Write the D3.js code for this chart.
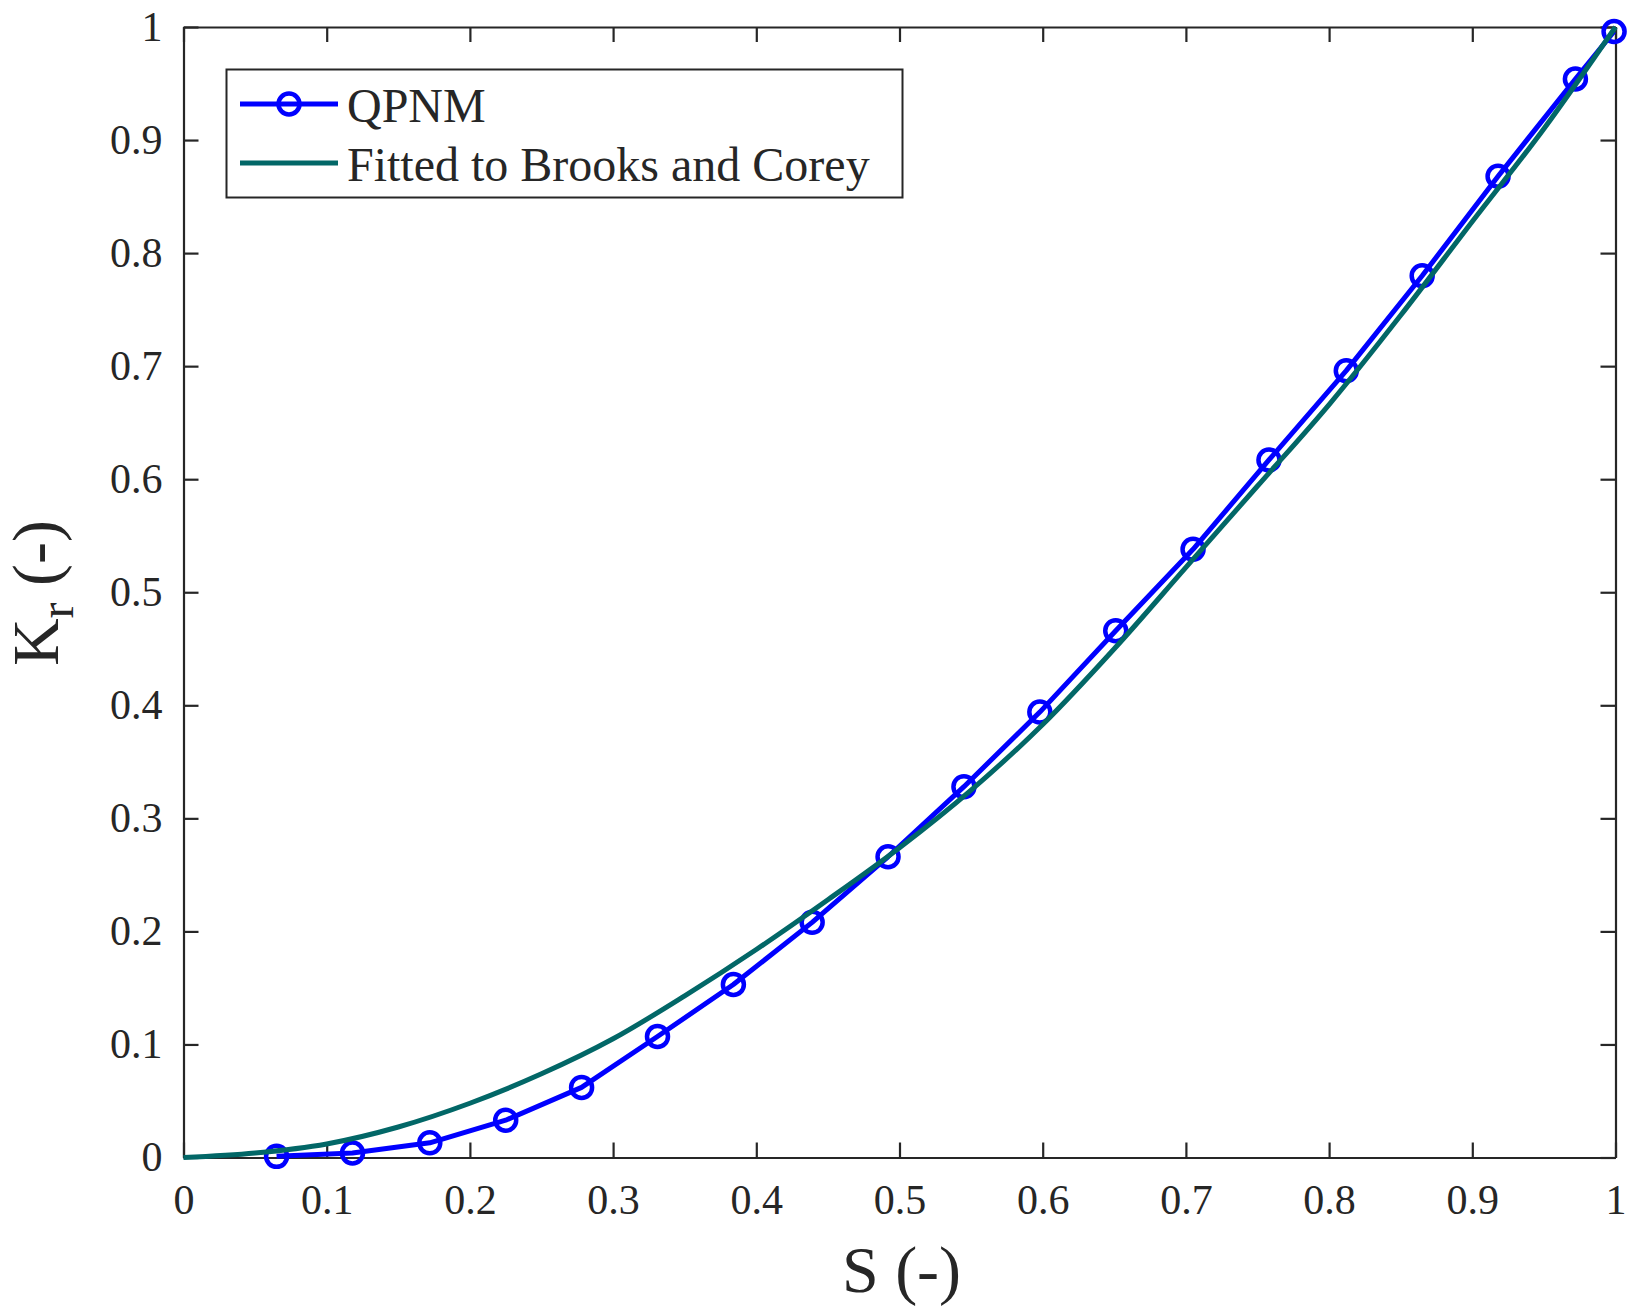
<!DOCTYPE html>
<html>
<head>
<meta charset="utf-8">
<script src="https://cdn.jsdelivr.net/npm/d3@7"></script>
<style>
  body { margin: 0; background: #fff; }
  svg text { font-family: "Liberation Serif", "DejaVu Serif", serif; fill: #262626; }
</style>
</head>
<body>
<div id="chart"></div>
<script>
// QPNM points (S, Kr)
var qpnmS  = [0.065, 0.118, 0.172, 0.225, 0.278, 0.331, 0.384, 0.439, 0.492, 0.545, 0.598, 0.651, 0.705, 0.758, 0.812, 0.865, 0.918, 0.972, 0.999];
var qpnmKr = [0.001, 0.004, 0.013, 0.033, 0.062, 0.107, 0.153, 0.208, 0.266, 0.328, 0.394, 0.466, 0.538, 0.617, 0.696, 0.780, 0.868, 0.954, 0.996];
// fitted Brooks and Corey curve
var fitS  = [0, 0.05, 0.1, 0.15, 0.2, 0.25, 0.3, 0.35, 0.4, 0.45, 0.5, 0.55, 0.6, 0.65, 0.7, 0.75, 0.8, 0.85, 0.9, 0.95, 1.0];
var fitKr = [0, 0.004, 0.012, 0.027, 0.048, 0.074, 0.105, 0.143, 0.184, 0.228, 0.274, 0.325, 0.383, 0.450, 0.522, 0.594, 0.666, 0.745, 0.828, 0.910, 1.0];
var ticks = [0, 0.1, 0.2, 0.3, 0.4, 0.5, 0.6, 0.7, 0.8, 0.9, 1];
var legendNames = ["QPNM", "Fitted to Brooks and Corey"];

var W = 1632, H = 1310;
// plot box (note: "top" is a reserved window global, so use other names)
var plotL = 183.5, plotR = 1615.5, plotT = 27, plotB = 1157.5;
var axisColor = "#262626";
var blue = "#0000ff", teal = "#026767";

var svg = d3.select("#chart").append("svg").attr("width", W).attr("height", H);

var x = d3.scaleLinear().domain([0, 1]).range([plotL, plotR]);
var y = d3.scaleLinear().domain([0, 1]).range([plotB, plotT]);

var fmt = function(d) { return d === 0 ? "0" : d === 1 ? "1" : d3.format(".1f")(d); };

// axes with inward ticks, box on all sides
var gx = svg.append("g").attr("transform", "translate(0," + plotB + ")")
  .call(d3.axisBottom(x).tickValues(ticks).tickFormat(fmt).tickSizeInner(-15).tickSizeOuter(0).tickPadding(27));
var gy = svg.append("g").attr("transform", "translate(" + plotL + ",0)")
  .call(d3.axisLeft(y).tickValues(ticks).tickFormat(fmt).tickSizeInner(-15).tickSizeOuter(0).tickPadding(21));
var gx2 = svg.append("g").attr("transform", "translate(0," + plotT + ")")
  .call(d3.axisTop(x).tickValues(ticks).tickFormat("").tickSizeInner(-15).tickSizeOuter(0));
var gy2 = svg.append("g").attr("transform", "translate(" + plotR + ",0)")
  .call(d3.axisRight(y).tickValues(ticks).tickFormat("").tickSizeInner(-15).tickSizeOuter(0));

[gx, gy, gx2, gy2].forEach(function(g) {
  g.selectAll("path.domain").attr("stroke", axisColor).attr("stroke-width", 2.2);
  g.selectAll(".tick line").attr("stroke", axisColor).attr("stroke-width", 2.2);
  g.selectAll(".tick text").style("font-family", "Liberation Serif").attr("font-size", 42).attr("fill", axisColor);
});
gx.selectAll(".tick text").attr("dy", "0.71em");

// QPNM line + circles
var line = d3.line().x(function(d) { return x(d[0]); }).y(function(d) { return y(d[1]); });
var qpnm = d3.zip(qpnmS, qpnmKr);
var fit = d3.zip(fitS, fitKr);

svg.append("path").datum(qpnm).attr("d", line)
  .attr("fill", "none").attr("stroke", blue).attr("stroke-width", 5).attr("stroke-linejoin", "round");
svg.append("g").selectAll("circle").data(qpnm).join("circle")
  .attr("cx", function(d) { return x(d[0]); })
  .attr("cy", function(d) { return y(d[1]); })
  .attr("r", 10.5).attr("fill", "none").attr("stroke", blue).attr("stroke-width", 4.5);

// fitted curve
svg.append("path").datum(fit).attr("d", d3.line().curve(d3.curveMonotoneX).x(function(d) { return x(d[0]); }).y(function(d) { return y(d[1]); }))
  .attr("fill", "none").attr("stroke", teal).attr("stroke-width", 5);

// legend
var lg = svg.append("g");
lg.append("rect").attr("x", 226.5).attr("y", 69.5).attr("width", 676).attr("height", 128)
  .attr("fill", "#fff").attr("stroke", axisColor).attr("stroke-width", 2);
var rows = [104, 163];
var cols = [blue, teal];
legendNames.forEach(function(name, i) {
  lg.append("line").attr("x1", 240).attr("x2", 338).attr("y1", rows[i]).attr("y2", rows[i])
    .attr("stroke", cols[i]).attr("stroke-width", 5);
  if (i === 0) {
    lg.append("circle").attr("cx", 289).attr("cy", rows[i]).attr("r", 10.5)
      .attr("fill", "none").attr("stroke", blue).attr("stroke-width", 4.5);
  }
  lg.append("text").attr("x", 347).attr("y", rows[i] + 18).attr("font-size", 48).text(name);
});

// axis labels
svg.append("text").attr("x", (plotL + plotR) / 2 + 2).attr("y", 1292).attr("text-anchor", "middle")
  .attr("font-size", 66).text("S (-)");

var yl = svg.append("text").attr("transform", "translate(58," + 593 + ") rotate(-90)")
  .attr("text-anchor", "middle").attr("font-size", 66);
yl.append("tspan").text("K");
yl.append("tspan").attr("font-size", 48).attr("dy", 15).text("r");
yl.append("tspan").attr("dy", -15).text(" (-)");
</script>
</body>
</html>
